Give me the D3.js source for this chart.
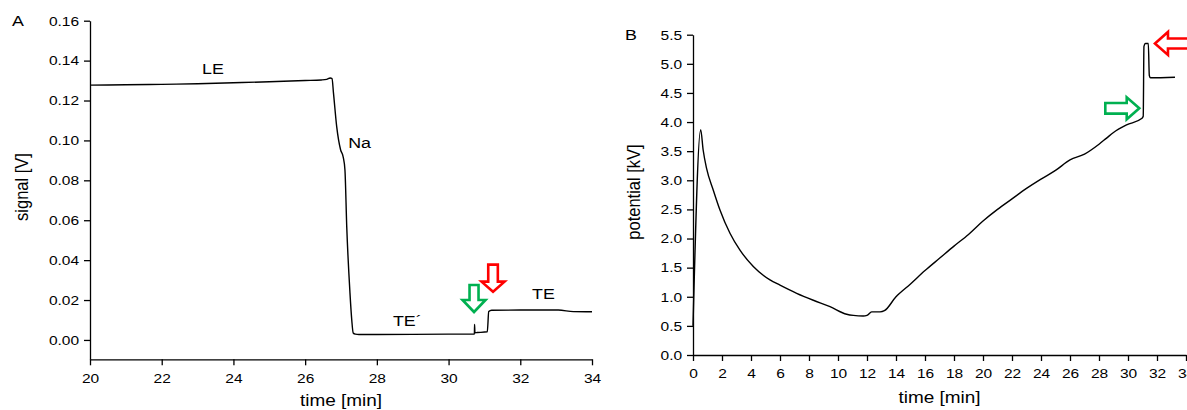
<!DOCTYPE html>
<html>
<head>
<meta charset="utf-8">
<script src="https://cdn.jsdelivr.net/npm/d3@7"></script>
<style>
  body { margin: 0; background: #fff; }
  svg text { font-family: "Liberation Sans", Arial, sans-serif; fill: #000; }
</style>
</head>
<body>
<svg id="chart" width="1187" height="410"></svg>
<script>
// ---- Panel A: detector signal vs. time ----
const timeA = [20, 21, 22, 23, 24, 25, 26, 26.45, 26.6, 26.7, 26.75, 26.79, 26.88, 26.99, 27.06, 27.11,
  27.16, 27.25, 27.30, 27.34, 27.40, 27.5, 28, 29, 30, 30.72, 30.725, 30.735, 30.8, 31.08, 31.12,
  31.2, 32, 33.06, 33.48, 34];
const signalA = [0.1277, 0.1279, 0.1281, 0.1284, 0.1289, 0.1294, 0.1300, 0.1303, 0.1306, 0.1313, 0.1310,
  0.1238, 0.1069, 0.0952, 0.0918, 0.0852, 0.0568, 0.0236, 0.0100, 0.0035, 0.0029, 0.0027, 0.0027,
  0.0028, 0.0029, 0.0029, 0.0078, 0.0036, 0.0037, 0.0041, 0.0142, 0.0149, 0.0150, 0.0150, 0.0142, 0.0141];
const xTicksA = [20, 22, 24, 26, 28, 30, 32, 34];
const yTicksA = [0, 0.02, 0.04, 0.06, 0.08, 0.10, 0.12, 0.14, 0.16];

// ---- Panel B: separation potential vs. time ----
const timeB = [0, 0.53, 0.7, 0.94, 1.4, 1.86, 2.55, 3.24, 4.16, 5.31, 6.0, 7.15, 8.3, 9.45, 10.6, 11.06,
  11.74, 12.0, 12.32, 12.9, 13.2, 14, 15, 16, 17, 18, 19, 20, 21, 22, 23, 24, 25, 26, 27, 28, 28.5,
  29, 29.9, 30.94, 31.05, 31.1, 31.2, 31.4, 31.47, 31.55, 33.24];
const potentialB = [0.5, 3.87, 3.52, 3.2, 2.83, 2.49, 2.09, 1.80, 1.52, 1.29, 1.20, 1.06, 0.94, 0.83, 0.70, 0.68,
  0.67, 0.68, 0.74, 0.74, 0.76, 1.0, 1.22, 1.45, 1.66, 1.87, 2.07, 2.3, 2.5, 2.68, 2.86, 3.02, 3.17,
  3.35, 3.45, 3.62, 3.72, 3.82, 3.95, 4.06, 4.1, 5.3, 5.35, 5.35, 4.8, 4.76, 4.77];
const xTicksB = d3.range(0, 35, 2);
const yTicksB = [0, 0.5, 1.0, 1.5, 2.0, 2.5, 3.0, 3.5, 4.0, 4.5, 5.0, 5.5];

const svg = d3.select("#chart");
const STRETCH = "scale(1.15,1)";
const RED = "#ff0000", GREEN = "#00b050";

function drawAxes(g, x, y, xTicks, yTicks, xMinor, yMinor, yFmt, xPad) {
  const ax = g.append("g").attr("transform", `translate(0,${y.range()[0]})`);
  ax.call(d3.axisBottom(x).tickValues(xMinor).tickSize(3).tickSizeOuter(0).tickFormat(""));
  ax.call(d3.axisBottom(x).tickValues(xTicks).tickSize(6).tickSizeOuter(0).tickPadding(xPad).tickFormat(d3.format("d")));
  const ay = g.append("g").attr("transform", `translate(${x.range()[0]},0)`);
  ay.call(d3.axisLeft(y).tickValues(yMinor).tickSize(3).tickSizeOuter(0).tickFormat(""));
  ay.call(d3.axisLeft(y).tickValues(yTicks).tickSize(6).tickSizeOuter(0).tickPadding(3.5).tickFormat(yFmt));
  [ax, ay].forEach(a => {
    a.selectAll("path.domain, line").attr("stroke", "#000").attr("stroke-width", 1.3);
    a.selectAll("text").attr("font-size", 13.5).attr("fill", "#000")
      .attr("font-family", '"Liberation Sans", Arial, sans-serif').attr("transform", STRETCH);
  });
}

// hollow block arrow; tip at (tx,ty), pointing along angle (deg)
function blockArrow(g, tx, ty, angle, len, shaftW, headW, headL, color) {
  const pts = [[0, 0], [-headL, -headW / 2], [-headL, -shaftW / 2], [-len, -shaftW / 2],
    [-len, shaftW / 2], [-headL, shaftW / 2], [-headL, headW / 2]];
  g.append("path")
    .attr("d", d3.line()(pts) + "Z")
    .attr("transform", `translate(${tx},${ty}) rotate(${angle})`)
    .attr("fill", "#fff").attr("stroke", color).attr("stroke-width", 2.6)
    .attr("stroke-linejoin", "miter");
}

function label(g, px, py, txt, size, anchor) {
  g.append("text").attr("transform", `translate(${px},${py}) ${STRETCH}`)
    .attr("font-size", size).attr("text-anchor", anchor || "start").text(txt);
}

// ===== Panel A =====
{
  const g = svg.append("g");
  const x = d3.scaleLinear().domain([20, 34]).range([90, 592]);
  const y = d3.scaleLinear().domain([-0.0097, 0.16]).range([359.3, 20.7]);
  const xMinor = d3.range(21, 34, 2);
  const yMinor = d3.range(0.01, 0.16, 0.02);
  drawAxes(g, x, y, xTicksA, yTicksA, xMinor, yMinor, d3.format(".2f"), 8);

  g.append("path")
    .datum(timeA.map((t, i) => [t, signalA[i]]))
    .attr("fill", "none").attr("stroke", "#000").attr("stroke-width", 1.4)
    .attr("stroke-linejoin", "round")
    .attr("d", d3.line().curve(d3.curveMonotoneX).x(d => x(d[0])).y(d => y(d[1])));

  label(g, 12, 26, "A", 15.5);
  label(g, x(23.43), y(0.1333), "LE", 15.5, "middle");
  label(g, x(27.2), y(0.0962), "Na", 15.5);
  label(g, x(28.45), y(0.0070), "TE\u00b4", 15.5);
  label(g, x(32.33), y(0.0205), "TE", 15.5);

  // axis titles
  g.append("text").attr("transform", `translate(${(90 + 592) / 2},406) ${STRETCH}`)
    .attr("font-size", 16.5).attr("text-anchor", "middle").text("time [min]");
  g.append("text").attr("transform", `translate(28,187) scale(1.15,1) rotate(-90)`)
    .attr("font-size", 16.5).attr("text-anchor", "middle").text("signal [V]");

  // markers of the zone boundaries
  blockArrow(g, x(30.71), y(0.0140), 90, 27, 9, 23, 12, GREEN);
  blockArrow(g, x(31.24), y(0.0242), 90, 27, 9.6, 23, 10, RED);
}

// ===== Panel B =====
{
  const g = svg.append("g");
  const x = d3.scaleLinear().domain([0, 34]).range([693, 1186]);
  const y = d3.scaleLinear().domain([0, 5.5]).range([355, 34.7]);
  const xMinor = d3.range(1, 34, 2);
  const yMinor = d3.range(0.25, 5.5, 0.5);
  drawAxes(g, x, y, xTicksB, yTicksB, xMinor, yMinor, d3.format(".1f"), 7);

  g.append("path")
    .datum(timeB.map((t, i) => [t, potentialB[i]]))
    .attr("fill", "none").attr("stroke", "#000").attr("stroke-width", 1.4)
    .attr("stroke-linejoin", "round")
    .attr("d", d3.line().curve(d3.curveMonotoneX).x(d => x(d[0])).y(d => y(d[1])));

  label(g, 625, 40, "B", 15.5);

  g.append("text").attr("transform", `translate(${(693 + 1186) / 2},403) ${STRETCH}`)
    .attr("font-size", 16.5).attr("text-anchor", "middle").text("time [min]");
  g.append("text").attr("transform", `translate(640,192) scale(1.15,1) rotate(-90)`)
    .attr("font-size", 16.5).attr("text-anchor", "middle").text("potential [kV]");

  blockArrow(g, x(30.78), y(4.236), 0, 34, 10.7, 22, 12.6, GREEN);
  blockArrow(g, x(31.86), y(5.35), 180, 45, 10, 23, 13, RED);
}
</script>
</body>
</html>
